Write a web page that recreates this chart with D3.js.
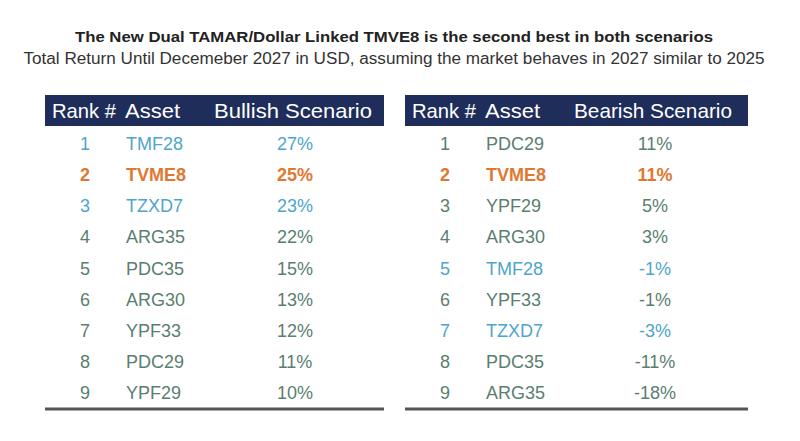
<!DOCTYPE html>
<html><head><meta charset="utf-8">
<script src="https://cdn.jsdelivr.net/npm/d3@7"></script>
<style>html,body{margin:0;padding:0;background:#fff}svg{display:block}</style>
</head><body>
<svg id="c" width="800" height="441"></svg>
<script>
const title = "The New Dual TAMAR/Dollar Linked TMVE8 is the second best in both scenarios";
const subtitle = "Total Return Until Decemeber 2027 in USD, assuming the market behaves in 2027 similar to 2025";
const ranks = [1,2,3,4,5,6,7,8,9];
const bullAssets = ["TMF28","TVME8","TZXD7","ARG35","PDC35","ARG30","YPF33","PDC29","YPF29"];
const bullValues = [27,25,23,22,15,13,12,11,10];
const bearAssets = ["PDC29","TVME8","YPF29","ARG30","TMF28","YPF33","TZXD7","PDC35","ARG35"];
const bearValues = [11,11,5,3,-1,-1,-3,-11,-18];
const headers = ["Rank #","Asset"];
const scenarioLabels = ["Bullish Scenario","Bearish Scenario"];
const highlight = {"TVME8":"#e2772f","TMF28":"#4ea5cc","TZXD7":"#4ea5cc"};

const svg = d3.select("#c");
const normal = "#5a7e70";

svg.append("text").attr("x",394).attr("y",42).attr("text-anchor","middle")
  .attr("font-family","Liberation Sans, Arial, sans-serif").attr("font-weight","bold")
  .attr("font-size",15).attr("fill","#222").attr("textLength",638).attr("lengthAdjust","spacingAndGlyphs").text(title);
svg.append("text").attr("x",394).attr("y",64).attr("text-anchor","middle")
  .attr("font-family","Liberation Sans, Arial, sans-serif")
  .attr("font-size",16).attr("fill","#333").attr("textLength",741).attr("lengthAdjust","spacingAndGlyphs").text(subtitle);

const y = d3.scaleBand().domain(ranks).range([128, 408]);

const tables = [
  {x0:45, x1:384, assets:bullAssets, values:bullValues, label:scenarioLabels[0]},
  {x0:405, x1:748, assets:bearAssets, values:bearValues, label:scenarioLabels[1]}
];

tables.forEach(t => {
  const g = svg.append("g");
  const col = d3.scaleOrdinal().domain(["rank","asset","value"]).range([t.x0+40, t.x0+81, t.x0+250]);
  g.append("rect").attr("x",t.x0).attr("y",95).attr("width",t.x1-t.x0).attr("height",31).attr("fill","#1f2d5b");
  const hf = "Liberation Sans Narrow, Arial Narrow, sans-serif";
  g.append("text").attr("x",t.x0+7).attr("y",118).attr("font-family",hf).attr("font-size",21).attr("fill","#fff")
    .attr("textLength",64).attr("lengthAdjust","spacingAndGlyphs").text(headers[0]);
  g.append("text").attr("x",col("asset")-1).attr("y",118).attr("font-family",hf).attr("font-size",21).attr("fill","#fff")
    .attr("textLength",55).attr("lengthAdjust","spacingAndGlyphs").text(headers[1]);
  g.append("text").attr("x",col("value")-2).attr("y",118).attr("text-anchor","middle").attr("font-family",hf).attr("font-size",21).attr("fill","#fff")
    .attr("textLength",158).attr("lengthAdjust","spacingAndGlyphs").text(t.label);

  const rows = g.selectAll("g.row").data(ranks.map((r,i)=>({r, a:t.assets[i], v:t.values[i]})))
    .join("g").attr("class","row").attr("transform",d=>`translate(0,${y(d.r)+y.bandwidth()/2+6.5})`);
  const fc = d => highlight[d.a] || normal;
  const fw = d => d.a==="TVME8" ? "bold" : "normal";
  const ff = "Liberation Sans, Arial, sans-serif";
  rows.append("text").attr("x",col("rank")).attr("text-anchor","middle").attr("font-family",ff).attr("font-size",18)
    .attr("font-weight",fw).attr("fill",fc).text(d=>d.r);
  rows.append("text").attr("x",col("asset")).attr("font-family",ff).attr("font-size",18)
    .attr("font-weight",fw).attr("fill",fc).text(d=>d.a);
  rows.append("text").attr("x",col("value")).attr("text-anchor","middle").attr("font-family",ff).attr("font-size",18)
    .attr("font-weight",fw).attr("fill",fc).text(d=>String(d.v)+"%");

  g.append("line").attr("x1",t.x0).attr("x2",t.x1).attr("y1",y.range()[1]+1).attr("y2",y.range()[1]+1)
    .attr("stroke","#555").attr("stroke-width",3);
});
</script>
</body></html>
